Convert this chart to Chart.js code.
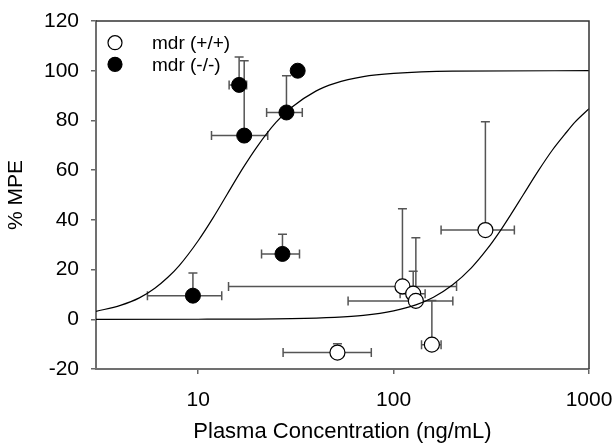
<!DOCTYPE html>
<html>
<head>
<meta charset="utf-8">
<script src="https://cdn.jsdelivr.net/npm/chart.js@4/dist/chart.umd.min.js"></script>
<style>
    html, body { margin: 0; padding: 0; background: #fff; }
    #chartMPE { display: block; }
</style>
</head>
<body>
<canvas id="chartMPE" width="615" height="445"></canvas>
<script>
// ============== DATA ==============

// mdr (+/+) - open circles
const mdrPosX   = [295, 111, 126, 130, 157, 51.6];
const mdrPosY   = [35.9, 13.2, 10.3, 7.4, -10.2, -13.4];
const mdrPosYUp = [79.5, 44.5, 19.3, 32.8, 7.6, -9.8];
const mdrPosXLo = [175, 14.3, 108, 58.5, 139, 27.2];
const mdrPosXHi = [415, 210, 145, 201, 175, 76.9];

// mdr (-/-) - filled circles
const mdrNegX   = [16.2, 17.2, 28.3, 32.3, 27.0, 9.4];
const mdrNegY   = [94.3, 73.9, 83.2, 100.0, 26.3, 9.5];
const mdrNegYUp = [105.5, 104, 98, null, 34.2, 18.6];
const mdrNegXLo = [14.4, 11.7, 22.4, null, 21.1, 5.5];
const mdrNegXHi = [17.7, 22.7, 34.1, null, 33.0, 13.2];

// fitted curves
const curveAX = [3, 4, 5, 6, 7, 8, 10, 12, 14, 17, 20, 25, 30, 40, 50, 70, 100, 200, 1000];
const curveAY = [3.2, 5.6, 8.6, 12.5, 16.9, 21.6, 31.6, 41.2, 50, 61, 69.4, 79.2, 85.2, 91.8, 94.9, 97.6, 98.9, 99.8, 100];
const curveBX = [3, 10, 30, 50, 70, 100, 130, 160, 200, 250, 300, 350, 400, 460, 550, 650, 750, 850, 1000];
const curveBY = [0, 0.02, 0.25, 0.75, 1.56, 3.4, 5.8, 8.9, 13.8, 20.7, 28.1, 35.4, 42.4, 50, 59.7, 68.1, 74.3, 79.4, 84.7];

// axes
const xTickVals = [10, 100, 1000];
const yTickVals = [-20, 0, 20, 40, 60, 80, 100, 120];
const legendLabels = ['mdr (+/+)', 'mdr (-/-)'];

const FONT = "'Liberation Sans', Arial, sans-serif";

function toPoints(xs, ys) {
    return xs.map((x, i) => ({ x: x, y: ys[i] }));
}

// ============== PLUGINS ==============

// error bars: + SD vertical, +/- SD horizontal
const errorBarPlugin = {
    id: 'errorBars',
    beforeDatasetsDraw(chart) {
        const ctx = chart.ctx;
        const xs = chart.scales.x;
        const ys = chart.scales.y;
        const groups = [
            [mdrPosX, mdrPosY, mdrPosYUp, mdrPosXLo, mdrPosXHi],
            [mdrNegX, mdrNegY, mdrNegYUp, mdrNegXLo, mdrNegXHi]
        ];
        ctx.save();
        ctx.strokeStyle = '#555';
        ctx.lineWidth = 1.5;
        const cap = 4.5;
        groups.forEach(g => {
            const [gx, gy, up, lo, hi] = g;
            gx.forEach((xv, i) => {
                const px = xs.getPixelForValue(xv);
                const py = ys.getPixelForValue(gy[i]);
                ctx.beginPath();
                if (up[i] !== null) {
                    const pu = ys.getPixelForValue(up[i]);
                    ctx.moveTo(px, py);
                    ctx.lineTo(px, pu);
                    ctx.moveTo(px - cap, pu);
                    ctx.lineTo(px + cap, pu);
                }
                if (lo[i] !== null) {
                    const pl = xs.getPixelForValue(lo[i]);
                    const ph = xs.getPixelForValue(hi[i]);
                    ctx.moveTo(pl, py);
                    ctx.lineTo(ph, py);
                    ctx.moveTo(pl, py - cap);
                    ctx.lineTo(pl, py + cap);
                    ctx.moveTo(ph, py - cap);
                    ctx.lineTo(ph, py + cap);
                }
                ctx.stroke();
            });
        });
        ctx.restore();
    },
    afterDraw(chart) {
        const ctx = chart.ctx;
        const a = chart.chartArea;
        ctx.save();
        // top and right frame
        ctx.strokeStyle = '#333';
        ctx.lineWidth = 1.5;
        ctx.beginPath();
        ctx.moveTo(a.left, a.top);
        ctx.lineTo(a.right, a.top);
        ctx.lineTo(a.right, a.bottom);
        ctx.stroke();

        // legend inside plot
        const lx = 115, ly = 42.7, step = 21.6;
        ctx.font = '19px ' + FONT;
        ctx.textBaseline = 'middle';
        ctx.textAlign = 'left';
        legendLabels.forEach((lbl, i) => {
            const y = ly + i * step;
            ctx.beginPath();
            ctx.arc(lx, y, 7, 0, Math.PI * 2);
            ctx.fillStyle = i === 0 ? '#fff' : '#000';
            ctx.fill();
            ctx.strokeStyle = '#000';
            ctx.lineWidth = 1.2;
            ctx.stroke();
            ctx.fillStyle = '#000';
            ctx.fillText(lbl, 152, y + 1);
        });
        ctx.restore();
    }
};

// ============== CHART ==============

const ctxMPE = document.getElementById('chartMPE').getContext('2d');

new Chart(ctxMPE, {
    type: 'scatter',
    data: {
        datasets: [
            {
                type: 'line',
                label: 'fit (-/-)',
                data: toPoints(curveAX, curveAY),
                borderColor: '#000',
                borderWidth: 1.2,
                pointRadius: 0,
                cubicInterpolationMode: 'monotone',
                fill: false
            },
            {
                type: 'line',
                label: 'fit (+/+)',
                data: toPoints(curveBX, curveBY),
                borderColor: '#000',
                borderWidth: 1.2,
                pointRadius: 0,
                cubicInterpolationMode: 'monotone',
                fill: false
            },
            {
                label: legendLabels[0],
                data: toPoints(mdrPosX, mdrPosY),
                pointRadius: 7.5,
                pointBackgroundColor: '#fff',
                pointBorderColor: '#000',
                pointBorderWidth: 1.2
            },
            {
                label: legendLabels[1],
                data: toPoints(mdrNegX, mdrNegY),
                pointRadius: 7.5,
                pointBackgroundColor: '#000',
                pointBorderColor: '#000',
                pointBorderWidth: 1
            }
        ]
    },
    options: {
        responsive: false,
        animation: false,
        devicePixelRatio: 1,
        layout: { padding: { top: 21, right: 26, left: 0, bottom: 0 } },
        plugins: {
            legend: { display: false },
            tooltip: { enabled: false }
        },
        scales: {
            x: {
                type: 'logarithmic',
                min: 3,
                max: 1000,
                afterBuildTicks: axis => { axis.ticks = xTickVals.map(v => ({ value: v })); },
                afterFit: s => { s.height = 76; s.paddingLeft = 0; s.paddingRight = 0; },
                ticks: {
                    color: '#000',
                    font: { family: FONT, size: 21 },
                    padding: 14,
                    maxRotation: 0,
                    autoSkip: false,
                    callback: v => String(v)
                },
                grid: { drawOnChartArea: false, drawTicks: true, tickLength: 5, color: '#666', lineWidth: 1.5 },
                border: { color: '#707070', width: 2 },
                title: {
                    display: true,
                    text: 'Plasma Concentration (ng/mL)',
                    color: '#000',
                    font: { family: FONT, size: 22 },
                    padding: { top: 0, bottom: 0 }
                }
            },
            y: {
                min: -20,
                max: 120,
                afterBuildTicks: axis => { axis.ticks = yTickVals.map(v => ({ value: v })); },
                afterFit: s => { s.width = 96; s.paddingTop = 0; s.paddingBottom = 0; },
                ticks: {
                    color: '#000',
                    font: { family: FONT, size: 21 },
                    padding: 12
                },
                grid: { drawOnChartArea: false, drawTicks: true, tickLength: 5, color: '#666', lineWidth: 1.5 },
                border: { color: '#707070', width: 2 },
                title: {
                    display: true,
                    text: '% MPE',
                    color: '#000',
                    font: { family: FONT, size: 21 },
                    padding: { top: 4, bottom: 0 }
                }
            }
        }
    },
    plugins: [errorBarPlugin]
});
</script>
</body>
</html>
